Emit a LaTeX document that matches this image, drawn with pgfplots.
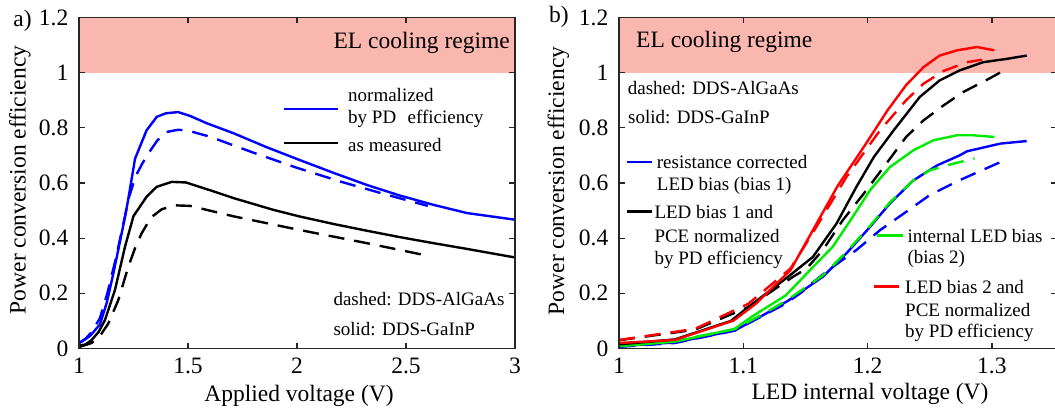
\documentclass[border=0pt]{standalone}
\usepackage{pgfplots}
\pgfplotsset{compat=1.18}
\usepackage{fontspec}
\setmainfont{Liberation Serif}
\definecolor{pinkc}{RGB}{250,183,175}
\definecolor{axc}{RGB}{38,38,38}
\definecolor{grn}{RGB}{0,235,0}
\newcommand{\bigf}{\fontsize{23.5}{28}\selectfont}
\newcommand{\smf}{\fontsize{19}{23}\selectfont}
\pgfplotsset{
  pp/.style={
    scale only axis, anchor=south west,
    ymin=0, ymax=1.2, height=331pt,
    axis on top,
    axis line style={axc, line width=1.6pt},
    tick style={axc, line width=1.3pt},
    tick align=inside, tick pos=both,
    major tick length=6pt,
    /pgf/number format/assume math mode=true,
    ticklabel style={font=\bigf, text=black, inner sep=0pt},
    xticklabel style={yshift=-9.5pt},
    yticklabel style={xshift=-10.5pt},
    ytick={0,0.2,0.4,0.6,0.8,1,1.2},
    yticklabels={0,0.2,0.4,0.6,0.8,1,1.2},
    clip=true,
  },
  sol/.style={line width=2.4pt},
  dsh/.style={line width=2.4pt, dash pattern=on 16pt off 10pt},
}
\begin{document}
\begin{tikzpicture}[x=1pt,y=1pt]
\useasboundingbox (0,0) rectangle (1055,410);
% ---------------- panel a ----------------
\begin{axis}[pp, at={(79pt,61.5pt)}, width=436pt, xmin=1, xmax=3,
  xtick={1,1.5,2,2.5,3}, xticklabels={1,1.5,2,2.5,3}]
\addplot[fill=pinkc, draw=none, forget plot] coordinates {(1,1) (3,1) (3,1.2) (1,1.2)} -- cycle;
% black dashed (AlGaAs, as measured)
\addplot[dsh, black] coordinates {(1.0,0.005)(1.058,0.02)(1.1,0.05)(1.134,0.09)(1.18,0.175)(1.226,0.296)(1.26,0.37)(1.287,0.417)(1.33,0.475)(1.38,0.505)(1.44,0.519)(1.51,0.517)(1.71,0.479)(2.01,0.43)(2.32,0.382)(2.595,0.337)};
% black solid (GaInP, as measured)
\addplot[sol, black] coordinates {(1.0,0.01)(1.03,0.015)(1.058,0.031)(1.09,0.06)(1.119,0.103)(1.165,0.212)(1.211,0.369)(1.25,0.48)(1.31,0.55)(1.356,0.586)(1.425,0.604)(1.49,0.602)(1.616,0.57)(1.71,0.545)(1.89,0.503)(2.01,0.479)(2.17,0.451)(2.32,0.427)(2.47,0.404)(2.625,0.382)(2.78,0.361)(3.0,0.33)};
% blue dashed
\addplot[dsh, blue] coordinates {(1.0,0.02)(1.03,0.035)(1.058,0.06)(1.096,0.11)(1.13,0.2)(1.17,0.33)(1.2,0.44)(1.23,0.55)(1.26,0.625)(1.29,0.67)(1.318,0.707)(1.36,0.755)(1.402,0.785)(1.455,0.793)(1.5,0.79)(1.6,0.768)(1.8,0.71)(2.0,0.655)(2.2,0.605)(2.4,0.56)(2.6,0.517)};
% blue solid
\addplot[sol, blue] coordinates {(1.0,0.02)(1.012,0.025)(1.05,0.045)(1.096,0.087)(1.127,0.165)(1.157,0.27)(1.18,0.357)(1.211,0.477)(1.225,0.537)(1.257,0.688)(1.31,0.791)(1.357,0.84)(1.40,0.853)(1.455,0.857)(1.51,0.843)(1.585,0.817)(1.71,0.78)(1.86,0.73)(2.01,0.684)(2.17,0.636)(2.32,0.593)(2.47,0.555)(2.625,0.521)(2.78,0.491)(3.0,0.467)};
\end{axis}
% ---------------- panel b ----------------
\begin{axis}[pp, at={(619pt,61.5pt)}, width=437.5pt, xmin=1, xmax=1.352,
  xtick={1,1.1,1.2,1.3}, xticklabels={1,1.1,1.2,1.3}]
\addplot[fill=pinkc, draw=none, forget plot] coordinates {(1,1) (1.352,1) (1.352,1.2) (1,1.2)} -- cycle;
% blue dashed
\addplot[dsh, blue] coordinates {(1.0,0.006)(1.045,0.02)(1.093,0.065)(1.112,0.11)(1.133,0.16)(1.147,0.204)(1.156,0.24)(1.172,0.296)(1.191,0.357)(1.21,0.429)(1.229,0.489)(1.25,0.556)(1.274,0.61)(1.306,0.674)};
% blue solid
\addplot[sol, blue] coordinates {(1.0,0.008)(1.045,0.022)(1.093,0.065)(1.118,0.126)(1.136,0.173)(1.164,0.26)(1.183,0.345)(1.202,0.441)(1.218,0.526)(1.237,0.61)(1.256,0.664)(1.274,0.7)(1.28,0.715)(1.307,0.743)(1.328,0.752)};
% green dashed
\addplot[dsh, grn] coordinates {(1.0,0.012)(1.045,0.028)(1.093,0.07)(1.118,0.13)(1.136,0.178)(1.164,0.265)(1.183,0.35)(1.202,0.445)(1.218,0.53)(1.237,0.61)(1.25,0.646)(1.269,0.67)(1.286,0.689)};
% green solid
\addplot[sol, grn] coordinates {(1.0,0.008)(1.045,0.025)(1.093,0.071)(1.107,0.116)(1.134,0.192)(1.146,0.248)(1.156,0.295)(1.172,0.369)(1.188,0.477)(1.202,0.574)(1.218,0.658)(1.237,0.719)(1.253,0.755)(1.272,0.773)(1.285,0.773)(1.302,0.767)};
% black dashed
\addplot[dsh, black] coordinates {(1.0,0.03)(1.061,0.068)(1.104,0.15)(1.14,0.26)(1.151,0.29)(1.164,0.357)(1.18,0.465)(1.197,0.562)(1.215,0.67)(1.231,0.767)(1.245,0.827)(1.261,0.881)(1.277,0.93)(1.296,0.974)(1.309,1.006)};
% black solid
\addplot[sol, black] coordinates {(1.0,0.015)(1.045,0.033)(1.09,0.1)(1.104,0.15)(1.136,0.26)(1.156,0.332)(1.175,0.453)(1.191,0.586)(1.205,0.694)(1.221,0.791)(1.242,0.912)(1.258,0.972)(1.274,1.008)(1.293,1.038)(1.312,1.05)(1.328,1.062)};
% red dashed
\addplot[dsh, red] coordinates {(1.0,0.031)(1.061,0.071)(1.104,0.162)(1.138,0.29)(1.156,0.42)(1.183,0.622)(1.21,0.791)(1.231,0.9)(1.245,0.96)(1.261,1.006)(1.28,1.038)(1.292,1.047)};
% red solid
\addplot[sol, red] coordinates {(1.0,0.02)(1.045,0.031)(1.092,0.101)(1.11,0.162)(1.138,0.284)(1.156,0.429)(1.176,0.59)(1.197,0.731)(1.216,0.863)(1.231,0.955)(1.245,1.02)(1.258,1.062)(1.272,1.081)(1.288,1.093)(1.302,1.081)};
\end{axis}
% ---------------- labels ----------------
\begin{scope}[every node/.style={inner sep=0pt, text=black}]
\node[font=\bigf] at (22.5,389) {a)};
\node[font=\bigf] at (559,393.3) {b)};
\node[font=\bigf, rotate=90] at (20,230) {Power conversion efficiency};
\node[font=\bigf, rotate=90] at (558.5,229) {Power conversion efficiency};
\node[font=\bigf] at (299,14) {Applied voltage (V)};
\node[font=\bigf] at (870,16) {LED internal voltage (V)};
\node[font=\bigf, anchor=east] at (510,367) {EL cooling regime};
\node[font=\bigf, anchor=west] at (636,368.3) {EL cooling regime};
% panel a annotations
\draw[blue, line width=2.4pt] (284,300.7) -- (338,300.7);
\draw[black, line width=2.4pt] (284,266.7) -- (338,266.7);
\node[font=\smf, anchor=west] at (348,315) {normalized};
\node[font=\smf, anchor=west] at (348,291) {by PD\hspace{0.6em}efficiency};
\node[font=\smf, anchor=west] at (348,265) {as measured};
\node[font=\smf, anchor=west] at (333.3,110.7) {dashed: DDS-AlGaAs};
\node[font=\smf, anchor=west] at (333.3,80.7) {solid: DDS-GaInP};
% panel b annotations
\node[font=\smf, anchor=west] at (627.7,321.7) {dashed: DDS-AlGaAs};
\node[font=\smf, anchor=west] at (628,292.7) {solid: DDS-GaInP};
\draw[blue, line width=2.4pt] (626.7,247.7) -- (651.7,247.7);
\node[font=\smf, anchor=west] at (656.7,247.7) {resistance corrected};
\node[font=\smf, anchor=west] at (656.7,224.3) {LED bias (bias 1)};
\draw[black, line width=2.4pt] (626.7,198.3) -- (652.3,198.3);
\node[font=\smf, anchor=west] at (654.3,198.3) {LED bias 1 and};
\node[font=\smf, anchor=west] at (654.3,174) {PCE normalized};
\node[font=\smf, anchor=west] at (654.3,150) {by PD efficiency};
\draw[grn, line width=2.4pt] (877.3,174.3) -- (903.3,174.3);
\node[font=\smf, anchor=west] at (907.3,174.3) {internal LED bias};
\node[font=\smf, anchor=west] at (907.3,151) {(bias 2)};
\draw[red, line width=2.4pt] (874,123.3) -- (899,123.3);
\node[font=\smf, anchor=west] at (905,123.3) {LED bias 2 and};
\node[font=\smf, anchor=west] at (905,100) {PCE normalized};
\node[font=\smf, anchor=west] at (905,76.7) {by PD efficiency};
\end{scope}
\end{tikzpicture}
\end{document}
